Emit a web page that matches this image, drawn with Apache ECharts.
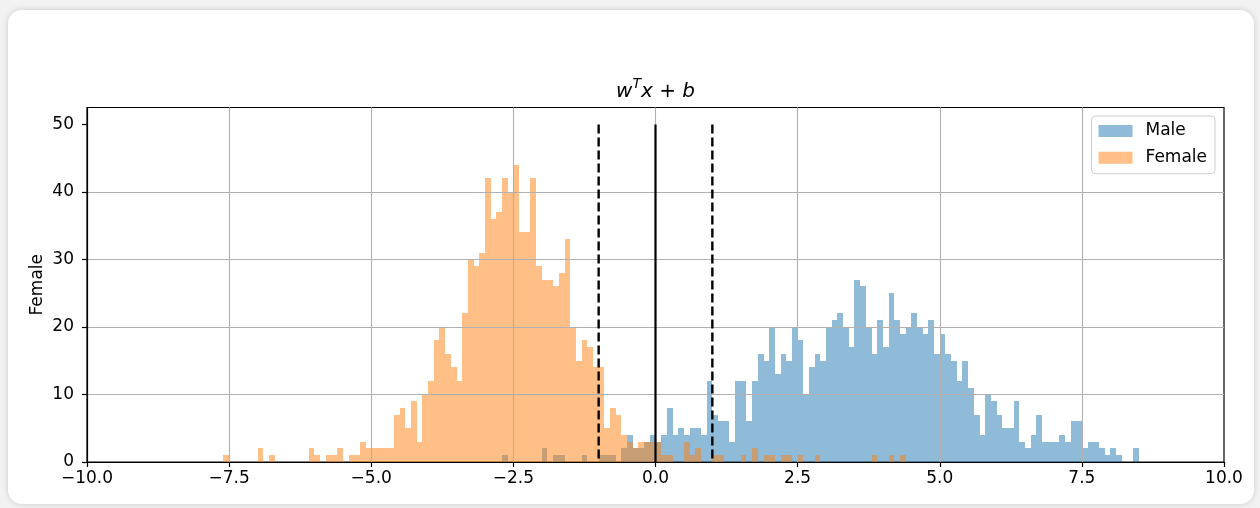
<!DOCTYPE html>
<html><head><meta charset="utf-8">
<script src="https://cdn.jsdelivr.net/npm/echarts@6/dist/echarts.min.js"></script>
<style>
html,body{margin:0;padding:0;width:1260px;height:508px;overflow:hidden;background:#f2f2f2;}
#card{position:absolute;left:8px;top:10px;width:1246px;height:494px;background:#fff;border-radius:14px;box-shadow:0 0 6px rgba(0,0,0,0.16);}
#chart{position:absolute;left:0;top:0;width:1260px;height:508px;}
</style></head><body>
<div id="card"></div><div id="chart"></div>
<script>
// ---- data ----
const binWidth = 0.1;
const femaleStart = -7.6;
const femaleCounts = [
  1,0,0,0,0,0,2,0,1,0,
  0,0,0,0,0,2,1,0,1,1,
  2,0,1,1,3,2,2,2,2,2,
  7,8,5,9,3,10,12,18,20,16,
  14,12,22,30,29,31,42,36,37,42,
  40,44,34,34,42,29,27,27,26,28,
  33,20,15,18,17,14,14,5,8,7,
  4,3,2,3,3,3,3,1,1,0,
  0,3,1,2,0,0,1,1,0,0,
  0,1,0,2,0,1,1,0,1,1,
  0,1,0,0,1,0,0,0,0,0,
  0,0,0,0,1,0,0,1,0,1
];
const maleStart = -2.7;
const maleCounts = [
  1,0,0,0,0,0,0,2,0,1,
  1,0,0,0,1,0,0,1,1,1,
  0,2,4,2,2,3,4,3,4,8,
  4,5,4,5,5,4,12,7,6,6,
  3,12,12,6,12,16,15,20,13,16,
  15,20,18,10,14,16,15,20,21,22,
  20,17,27,26,20,16,21,17,25,21,
  19,20,22,20,19,21,16,19,16,15,
  12,15,11,7,4,10,9,7,5,5,
  9,3,2,4,7,3,3,3,4,3,
  6,6,2,3,3,2,1,2,1,0,
  0,2
];
const seriesNames = ['Male', 'Female'];
const xTicks = [-10, -7.5, -5, -2.5, 0, 2.5, 5, 7.5, 10];
const yTicks = [0, 10, 20, 30, 40, 50];
const dashedLinesX = [-1, 1];
const solidLinesX = [0];
const lineTop = 50;

// ---- build ----
const maleColor = 'rgba(31,119,180,0.5)';
const femaleColor = 'rgba(255,127,14,0.5)';
function toBins(start, counts) {
  return counts.map((c, i) => [Math.round((start + i * binWidth) * 10) / 10, c]);
}
function histItem(color) {
  return function (params, api) {
    const x0 = api.value(0), h = api.value(1);
    if (!h) return null;
    const p0 = api.coord([x0, 0]);
    const p1 = api.coord([x0 + binWidth, h]);
    const xa = Math.round(p0[0]), xb = Math.round(p1[0]);
    const yb = Math.round(p0[1]), yt = Math.round(p1[1]);
    return { type: 'rect', shape: { x: xa, y: yt, width: xb - xa, height: yb - yt }, style: { fill: color } };
  };
}
function vline(x, dashed) {
  return {
    type: 'line', data: [[x, lineTop], [x, 0]], symbol: 'none', z: 5, silent: true,
    lineStyle: { color: '#000', width: dashed ? 2.4 : 2.2, type: dashed ? [9, 4] : 'solid' }
  };
}
const font = 'DejaVu Sans';
const minus = v => (v < 0 ? '\u2212' : '') + Math.abs(v).toFixed(1);
const chart = echarts.init(document.getElementById('chart'), null, { renderer: 'canvas' });
chart.setOption({
  animation: false,
  backgroundColor: 'transparent',
  title: {
    text: '{i|w}{s|T}{i|x}{n| + }{i|b}',
    left: 655.5, textAlign: 'center', top: 74, padding: 0,
    textStyle: {
      fontWeight: 'normal',
      rich: {
        i: { fontFamily: font, fontStyle: 'italic', fontWeight: 'normal', fontSize: 20, color: '#000', lineHeight: 28, verticalAlign: 'bottom' },
        s: { fontFamily: font, fontStyle: 'italic', fontWeight: 'normal', fontSize: 14, color: '#000', lineHeight: 28, verticalAlign: 'top', padding: [3, 0, 0, 0] },
        n: { fontFamily: font, fontWeight: 'normal', fontSize: 20, color: '#000', lineHeight: 28, verticalAlign: 'bottom' }
      }
    }
  },
  legend: {
    orient: 'vertical', right: 45, top: 116,
    padding: [5, 8, 6, 7], itemGap: 6.7, itemWidth: 34, itemHeight: 12,
    backgroundColor: 'rgba(255,255,255,0.8)', borderColor: '#cccccc', borderWidth: 1, borderRadius: 4,
    textStyle: { fontFamily: font, fontSize: 17, color: '#000', lineHeight: 20, padding: [0, 0, 0, 8] },
    data: [
      { name: seriesNames[0], icon: 'rect', itemStyle: { color: maleColor } },
      { name: seriesNames[1], icon: 'rect', itemStyle: { color: femaleColor } }
    ]
  },
  grid: { left: 87, right: 36, top: 107.5, bottom: 46, show: true, borderColor: '#000', borderWidth: 1.2, backgroundColor: 'transparent' },
  xAxis: {
    type: 'value', min: -10, max: 10, interval: 2.5, z: 3,
    axisLine: { show: true, onZero: false, lineStyle: { color: '#000', width: 1.2 } },
    axisTick: { show: true, length: 5, lineStyle: { color: '#000', width: 1.2 } },
    axisLabel: { fontFamily: font, fontSize: 17, color: '#000', margin: 8, formatter: minus, customValues: xTicks },
    splitLine: { show: true, showMinLine: false, showMaxLine: false, lineStyle: { color: '#b0b0b0', width: 1.1 } }
  },
  yAxis: {
    type: 'value', min: 0, max: 52.5, interval: 10, z: 3,
    name: 'Female', nameLocation: 'middle', nameGap: 41, nameMoveOverlap: false,
    nameTextStyle: { fontFamily: font, fontSize: 17, color: '#000' },
    axisLine: { show: true, onZero: false, lineStyle: { color: '#000', width: 1.2 } },
    axisTick: { show: true, length: 5, lineStyle: { color: '#000', width: 1.2 }, customValues: yTicks },
    axisLabel: { fontFamily: font, fontSize: 17, color: '#000', margin: 13, customValues: yTicks },
    splitLine: { show: true, showMinLine: false, showMaxLine: false, lineStyle: { color: '#b0b0b0', width: 1.1 } }
  },
  series: [
    { name: seriesNames[0], type: 'custom', renderItem: histItem(maleColor), data: toBins(maleStart, maleCounts), encode: { x: 0, y: 1 }, itemStyle: { color: maleColor }, z: 2 },
    { name: seriesNames[1], type: 'custom', renderItem: histItem(femaleColor), data: toBins(femaleStart, femaleCounts), encode: { x: 0, y: 1 }, itemStyle: { color: femaleColor }, z: 2 },
    ...dashedLinesX.map(x => vline(x, true)),
    ...solidLinesX.map(x => vline(x, false))
  ]
});
</script></body></html>
